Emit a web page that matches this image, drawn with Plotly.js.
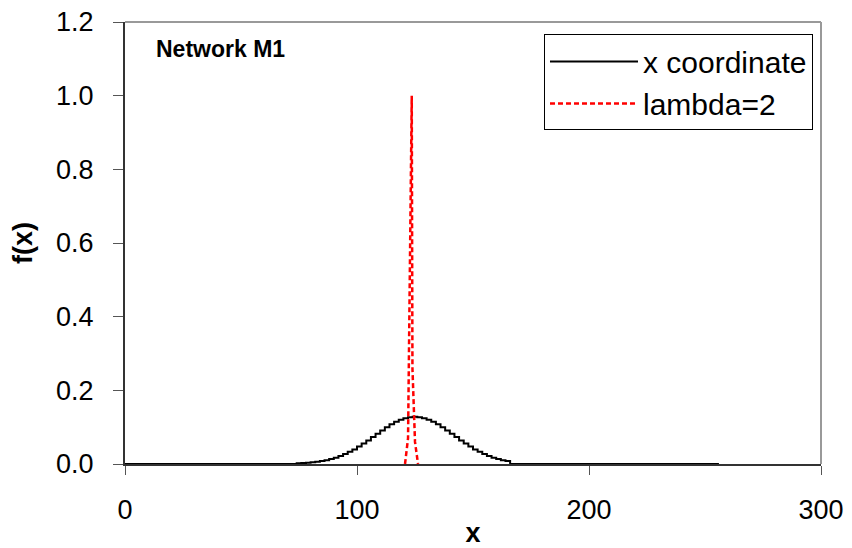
<!DOCTYPE html>
<html>
<head>
<meta charset="utf-8">
<script src="https://cdn.plot.ly/plotly-3.0.1.min.js"></script>
<style>html,body{margin:0;padding:0;background:#fff;}#chart{width:852px;height:548px;}</style>
</head>
<body>
<div id="chart"></div>
<script>
// x coordinate distribution (step curve)
const coordX = [0, 72, 74, 76, 78, 80, 82, 84, 86, 88, 90, 92, 94, 96, 98, 100, 102, 104, 106, 108, 110, 112, 114, 116, 118, 120, 122, 124, 126, 128, 130, 132, 134, 136, 138, 140, 142, 144, 146, 148, 150, 152, 154, 156, 158, 160, 162, 164, 166, 256];
const coordF = [0, 0, 0.002, 0.0024, 0.0033, 0.0045, 0.0061, 0.008, 0.0105, 0.0136, 0.0173, 0.0218, 0.027, 0.033, 0.0397, 0.0472, 0.0554, 0.0641, 0.073, 0.0822, 0.0912, 0.0998, 0.1077, 0.1146, 0.1203, 0.1245, 0.1271, 0.128, 0.1271, 0.1245, 0.1203, 0.1146, 0.1077, 0.0998, 0.0912, 0.0822, 0.073, 0.0641, 0.0554, 0.0472, 0.0397, 0.033, 0.027, 0.0218, 0.0173, 0.0136, 0.0105, 0.008, 0, 0];
// lambda=2 spike
const lambdaX = [120.7, 122.0, 123.6, 123.9, 125.0, 126.3];
const lambdaF = [0, 0.07, 1.0, 0.26, 0.06, 0];

const seriesNames = ['x coordinate', 'lambda=2'];
const xTicks = [0, 100, 200, 300];
const yTicks = [0.0, 0.2, 0.4, 0.6, 0.8, 1.0, 1.2];

const FONT = 'Liberation Sans, Arial, sans-serif';

const traces = [
  {x: coordX, y: coordF, name: seriesNames[0], type: 'scatter', mode: 'lines',
   line: {color: '#000000', width: 2, shape: 'hv'}},
  {x: lambdaX, y: lambdaF, name: seriesNames[1], type: 'scatter', mode: 'lines',
   line: {color: '#ff0000', width: 2.5, dash: '5px,3px'}}
];

const layout = {
  width: 852, height: 548,
  margin: {l: 125, r: 31, t: 22, b: 84, pad: 0},
  paper_bgcolor: '#ffffff', plot_bgcolor: '#ffffff',
  font: {family: FONT, size: 27, color: '#000'},
  showlegend: true,
  legend: {x: 0.9885, y: 0.972, xanchor: 'right', yanchor: 'top',
    bordercolor: '#000', borderwidth: 1, bgcolor: '#fff', itemwidth: 88,
    font: {family: FONT, size: 30, color: '#000'}, tracegroupgap: 0},
  xaxis: {range: [0, 300], tickvals: xTicks, ticktext: xTicks.map(String),
    showgrid: false, zeroline: false, showline: true, linecolor: '#333', linewidth: 2,
    ticks: 'outside', ticklen: 9, tickcolor: '#555', tickwidth: 1,
    ticklabelstandoff: 12,
    tickfont: {family: FONT, size: 27, color: '#000'},
    title: {text: '<b>x</b>', font: {family: FONT, size: 27, color: '#000'}, standoff: 5}},
  yaxis: {range: [0, 1.2], tickvals: yTicks, ticktext: yTicks.map(v => v.toFixed(1)),
    showgrid: false, zeroline: false, showline: true, linecolor: '#333', linewidth: 2,
    ticks: 'outside', ticklen: 10, tickcolor: '#555', tickwidth: 1,
    ticklabelstandoff: 14,
    tickfont: {family: FONT, size: 27, color: '#000'},
    title: {text: '<b>f(x)</b>', font: {family: FONT, size: 27, color: '#000'}, standoff: 16}},
  shapes: [
    {type: 'line', xref: 'paper', yref: 'paper', x0: 0, x1: 1, y0: 1, y1: 1, line: {color: '#999', width: 2}},
    {type: 'line', xref: 'paper', yref: 'paper', x0: 1, x1: 1, y0: 0, y1: 1, line: {color: '#999', width: 2}}
  ],
  annotations: [
    {text: '<b>Network M1</b>', xref: 'paper', yref: 'paper', x: 0.042, y: 0.94,
     xanchor: 'left', yanchor: 'middle', showarrow: false,
     font: {family: FONT, size: 23, color: '#000'}}
  ]
};

Plotly.newPlot('chart', traces, layout, {displayModeBar: false, staticPlot: true});
</script>
</body>
</html>
